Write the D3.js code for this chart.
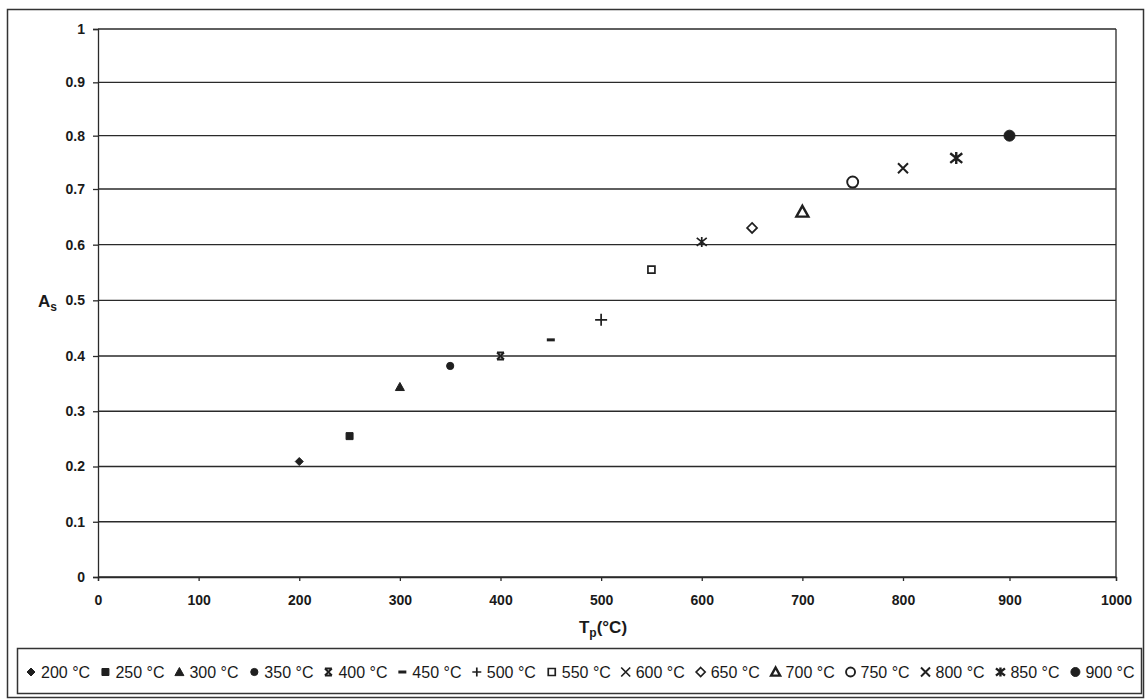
<!DOCTYPE html>
<html>
<head>
<meta charset="utf-8">
<script src="https://cdn.jsdelivr.net/npm/d3@7"></script>
<style>
  body { margin: 0; background: #fff; }
  svg text { font-family: 'Liberation Sans', Arial, sans-serif; fill: #1a1a1a; }
</style>
</head>
<body>
<svg id="chart" width="1146" height="700"></svg>
<script>
const temps = [200, 250, 300, 350, 400, 450, 500, 550, 600, 650, 700, 750, 800, 850, 900]
const asValues = [0.209, 0.255, 0.344, 0.382, 0.40, 0.429, 0.465, 0.555, 0.605, 0.63, 0.659, 0.713, 0.739, 0.758, 0.80]
const legendLabels = ['200 °C', '250 °C', '300 °C', '350 °C', '400 °C', '450 °C', '500 °C', '550 °C',
  '600 °C', '650 °C', '700 °C', '750 °C', '800  °C', '850 °C', '900 °C']

const xTicks = [0, 100, 200, 300, 400, 500, 600, 700, 800, 900, 1000]
const xTickLabels = ['0', '100', '200', '300', '400', '500', '600', '700', '800', '900', '1000']
const yTicks = [0, 0.1, 0.2, 0.3, 0.4, 0.5, 0.6, 0.7, 0.8, 0.9, 1]
const yTickLabels = ['0', '0.1', '0.2', '0.3', '0.4', '0.5', '0.6', '0.7', '0.8', '0.9', '1']

// marker look per series (Excel style markers)
const markerStyles = [
  { shape: 'diamond', r: 4, fill: true },
  { shape: 'square', r: 3.5, fill: true },
  { shape: 'triangle', r: 4.5, fill: true },
  { shape: 'circle', r: 3.6, fill: true },
  { shape: 'bowtie', r: 3.5, sw: 1.8 },
  { shape: 'dash', r: 4, sw: 3 },
  { shape: 'plus', r: 6, sw: 1.7 },
  { shape: 'square', r: 3.5, sw: 1.7 },
  { shape: 'star', r: 5, sw: 1.7, legendShape: 'x' },
  { shape: 'diamond', r: 5, sw: 1.7 },
  { shape: 'triangle', r: 6, sw: 2.4 },
  { shape: 'circle', r: 5.5, sw: 1.9 },
  { shape: 'x', r: 5, sw: 2 },
  { shape: 'star', r: 6, sw: 2.4 },
  { shape: 'circle', r: 5.5, fill: true }
]

const INK = '#1f1f1f'
const svg = d3.select('#chart')

// the scanned original is slightly stretched, so a few anchor stops are used
const x = d3.scaleLinear().domain([0, 800, 1000]).range([98, 903, 1116])
const y = d3.scaleLinear().domain([0, 0.4, 0.7, 1]).range([577, 356, 189, 29])

function markerPath(shape, r) {
  switch (shape) {
    case 'diamond': return `M0,${-r}L${r},0L0,${r}L${-r},0Z`
    case 'square': return `M${-r},${-r}h${2 * r}v${2 * r}h${-2 * r}Z`
    case 'triangle': return `M0,${-r}L${r},${r * 0.8}L${-r},${r * 0.8}Z`
    case 'circle': return `M${r},0A${r},${r} 0 1,1 ${-r},0A${r},${r} 0 1,1 ${r},0Z`
    case 'bowtie': return `M${-r},${-r}L${r},${r}M${r},${-r}L${-r},${r}M${-r},${-r}H${r}M${-r},${r}H${r}`
    case 'dash': return `M${-r},0H${r}`
    case 'plus': return `M${-r},0H${r}M0,${-r}V${r}`
    case 'x': return `M${-r},${-r}L${r},${r}M${r},${-r}L${-r},${r}`
    case 'star': return `M${-r},${-r * 0.8}L${r},${r * 0.8}M${r},${-r * 0.8}L${-r},${r * 0.8}M0,${-r}V${r}`
  }
}

function drawMarker(sel, style, shape, r) {
  sel.append('path')
    .attr('d', markerPath(shape, r))
    .attr('fill', style.fill ? INK : 'none')
    .attr('stroke', INK)
    .attr('stroke-width', style.fill ? 1 : style.sw)
}

// outer frame
svg.append('rect')
  .attr('x', 7.5).attr('y', 9.5).attr('width', 1136).attr('height', 688)
  .attr('fill', '#fff').attr('stroke', '#333').attr('stroke-width', 1.5)

// plot area border + gridlines
svg.append('g')
  .selectAll('line')
  .data(yTicks)
  .join('line')
  .attr('x1', x(0)).attr('x2', x(1000))
  .attr('y1', d => y(d)).attr('y2', d => y(d))
  .attr('stroke', '#2a2a2a').attr('stroke-width', 1.3)

svg.append('line')
  .attr('x1', x(1000)).attr('x2', x(1000)).attr('y1', y(1)).attr('y2', y(0))
  .attr('stroke', '#2a2a2a').attr('stroke-width', 1.3)

const yAxis = svg.append('g')
  .attr('transform', `translate(${x(0)},0)`)
  .call(d3.axisLeft(y).tickValues(yTicks).tickSize(5).tickPadding(8)
    .tickFormat((d, i) => yTickLabels[i]))

const xAxis = svg.append('g')
  .attr('transform', `translate(0,${y(0)})`)
  .call(d3.axisBottom(x).tickValues(xTicks).tickSize(4).tickPadding(14)
    .tickFormat((d, i) => xTickLabels[i]))

;[yAxis, xAxis].forEach(g => {
  g.select('.domain').attr('stroke', '#2a2a2a').attr('stroke-width', 1.3)
  g.selectAll('.tick line').attr('stroke', '#2a2a2a').attr('stroke-width', 1.3)
  g.selectAll('.tick text')
    .attr('fill', INK)
    .style('font-family', "'Liberation Sans', Arial, sans-serif")
    .style('font-size', '14px')
    .style('font-weight', 'bold')
})

// axis titles
const yTitle = svg.append('text')
  .attr('x', 38).attr('y', 307)
  .style('font-size', '17px').style('font-weight', 'bold')
yTitle.append('tspan').text('A')
yTitle.append('tspan').attr('dy', 4).style('font-size', '12px').text('s')

const xTitle = svg.append('text')
  .attr('x', 603).attr('y', 633)
  .attr('text-anchor', 'middle')
  .style('font-size', '17px').style('font-weight', 'bold')
xTitle.append('tspan').text('T')
xTitle.append('tspan').attr('dy', 4).style('font-size', '12px').text('p')
xTitle.append('tspan').attr('dy', -4).text('(°C)')

// data points
const points = svg.append('g')
  .selectAll('g')
  .data(temps.map((t, i) => ({ t, v: asValues[i], style: markerStyles[i] })))
  .join('g')
  .attr('transform', d => `translate(${x(d.t)},${y(d.v)})`)

points.each(function (d) {
  drawMarker(d3.select(this), d.style, d.style.shape, d.style.r)
})

// legend
const legendBox = { x: 17, y: 648, w: 1124, h: 45 }
svg.append('rect')
  .attr('x', legendBox.x + 0.5).attr('y', legendBox.y + 0.5)
  .attr('width', legendBox.w).attr('height', legendBox.h)
  .attr('fill', '#fff').attr('stroke', '#333').attr('stroke-width', 1.5)

const legend = svg.append('g')
const items = legend.selectAll('g')
  .data(legendLabels.map((label, i) => ({ label, style: markerStyles[i] })))
  .join('g')

items.append('text')
  .attr('x', 10)
  .attr('y', 6)
  .style('font-size', '16px')
  .text(d => d.label)

items.each(function (d) {
  const s = d.style
  const r = Math.min(s.r, 4.5)
  drawMarker(d3.select(this), s, s.legendShape || s.shape, r)
})

// spread legend entries across the box
const widths = []
items.each(function () { widths.push(this.getBBox().width) })
const totalW = d3.sum(widths)
const gap = (legendBox.w - 16 - totalW) / (widths.length - 1)
let cursor = legendBox.x + 10
items.attr('transform', (d, i) => {
  const tx = cursor + 4
  cursor += widths[i] + gap
  return `translate(${tx},${legendBox.y + 24})`
})
</script>
</body>
</html>
